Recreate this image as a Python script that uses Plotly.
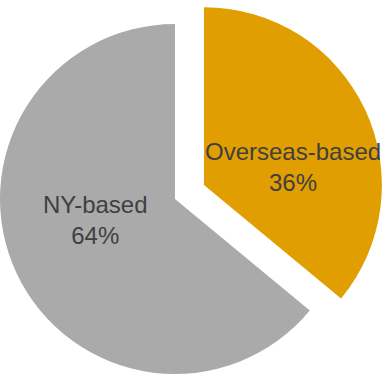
import plotly.graph_objects as go

labels = ["Overseas-based", "NY-based"]
values = [36, 64]
colors = ["#E09E00", "#AAAAAA"]
text_color = "#404040"

total = sum(values)
pct = [f"{round(v / total * 100)}%" for v in values]

fig = go.Figure()

# Gray (NY-based) slice, drawn from its own pie; the other slice transparent
fig.add_trace(go.Pie(
    labels=labels, values=values, sort=False, direction="clockwise", rotation=0,
    marker=dict(colors=["rgba(0,0,0,0)", colors[1]], line=dict(width=0)),
    textinfo="none", hoverinfo="skip", showlegend=False,
    domain=dict(x=[0.0, 0.909], y=[0.0053, 0.936]),
))

# Orange (Overseas-based) slice, exploded outward
fig.add_trace(go.Pie(
    labels=labels, values=values, sort=False, direction="clockwise", rotation=0,
    marker=dict(colors=[colors[0], "rgba(0,0,0,0)"], line=dict(width=0)),
    textinfo="none", hoverinfo="skip", showlegend=False,
    domain=dict(x=[0.0675, 0.992], y=[0.0346, 0.981]),
))

label_pos = [(0.761, 0.556), (0.249, 0.415)]
for lab, p, (x, y) in zip(labels, pct, label_pos):
    fig.add_annotation(
        text=f"{lab}<br>{p}", x=x, y=y, xref="paper", yref="paper",
        showarrow=False, xanchor="center", yanchor="middle",
        font=dict(family="Arial, Liberation Sans, sans-serif", size=24, color=text_color),
    )

fig.update_layout(
    width=385, height=376,
    margin=dict(l=0, r=0, t=0, b=0),
    paper_bgcolor="white", plot_bgcolor="white",
    showlegend=False,
)

fig.write_html("out.html")
